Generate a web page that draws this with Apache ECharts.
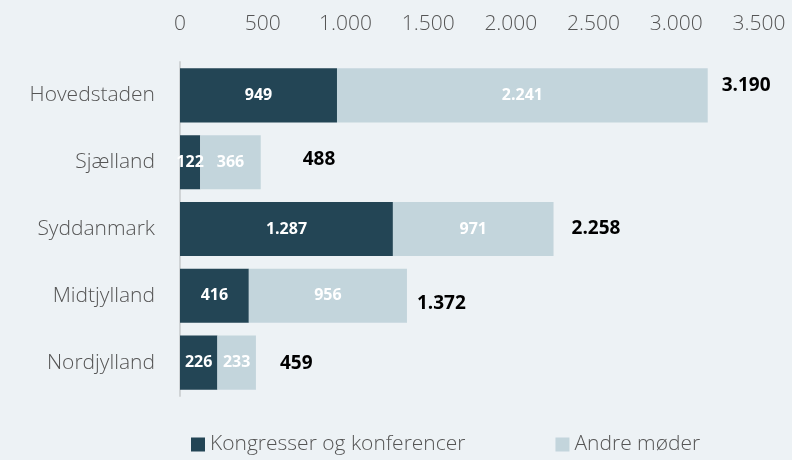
<!DOCTYPE html>
<html>
<head>
<meta charset="utf-8">
<script src="https://cdn.jsdelivr.net/npm/echarts@6/dist/echarts.min.js"></script>
<style>
	html, body { margin: 0; padding: 0; background: #edf2f5; }
	#chart { width: 792px; height: 460px; }
</style>
</head>
<body>
<div id="chart"></div>
<script>
var regions = ['Hovedstaden', 'Sjælland', 'Syddanmark', 'Midtjylland', 'Nordjylland'];
var kongresser = [949, 122, 1287, 416, 226];
var andre = [2241, 366, 971, 956, 233];
var totals = [3190, 488, 2258, 1372, 459];
var xTicks = [0, 500, 1000, 1500, 2000, 2500, 3000, 3500];

// label offsets for the totals (x, y) in px
var totalOffsets = [[8, -10], [36, -3], [12, 0], [4, 8], [18, 1]];

function fmt(v) {
	return String(v).replace(/\B(?=(\d{3})+(?!\d))/g, '.');
}

var font = "'Open Sans', 'Noto Sans', sans-serif";

var totalData = [];
for (var i = 0; i < totals.length; i++) {
	totalData.push({
		value: totals[i],
		label: { offset: totalOffsets[i] }
	});
}

var chart = echarts.init(document.getElementById('chart'));
chart.setOption({
	backgroundColor: '#edf2f5',
	animation: false,
	grid: { left: 180, right: 33, top: 62, bottom: 64 },
	legend: {
		bottom: 0,
		left: 186,
		itemWidth: 14,
		itemHeight: 14,
		itemGap: 90,
		icon: 'rect',
		textStyle: { fontFamily: font, fontSize: 21, color: '#555', fontWeight: 300 },
		data: ['Kongresser og konferencer', 'Andre møder']
	},
	xAxis: {
		type: 'value',
		position: 'top',
		min: xTicks[0],
		max: xTicks[xTicks.length - 1],
		interval: 500,
		axisLine: { show: false },
		axisTick: { show: false },
		splitLine: { show: false },
		axisLabel: {
			margin: 27,
			fontFamily: font,
			fontSize: 21,
			fontWeight: 300,
			color: '#555',
			formatter: function(v) { return fmt(v); }
		}
	},
	yAxis: {
		type: 'category',
		inverse: true,
		data: regions,
		axisLine: { show: true, lineStyle: { color: '#d0d4d6', width: 2 } },
		axisTick: { show: false },
		axisLabel: {
			margin: 25,
			fontFamily: font,
			fontSize: 21,
			fontWeight: 300,
			color: '#555'
		}
	},
	series: [{
		name: 'Kongresser og konferencer',
		type: 'bar',
		stack: 'total',
		barCategoryGap: '19%',
		itemStyle: { color: '#234555' },
		label: {
			show: true,
			position: 'inside',
			color: '#fff',
			fontFamily: font,
			fontWeight: 'bold',
			fontSize: 16,
			formatter: function(p) { return fmt(p.value); }
		},
		data: kongresser
	}, {
		name: 'Andre møder',
		type: 'bar',
		stack: 'total',
		itemStyle: { color: '#c3d5dc' },
		label: {
			show: true,
			position: 'inside',
			color: '#fff',
			fontFamily: font,
			fontWeight: 'bold',
			fontSize: 16,
			formatter: function(p) { return fmt(p.value); }
		},
		data: andre
	}, {
		name: 'Total',
		type: 'bar',
		barGap: '-100%',
		itemStyle: { color: 'transparent' },
		z: 1,
		silent: true,
		label: {
			show: true,
			position: 'right',
			distance: 6,
			color: '#000',
			fontFamily: font,
			fontWeight: 'bold',
			fontSize: 19,
			formatter: function(p) { return fmt(p.value); }
		},
		data: totalData
	}]
});
</script>
</body>
</html>
